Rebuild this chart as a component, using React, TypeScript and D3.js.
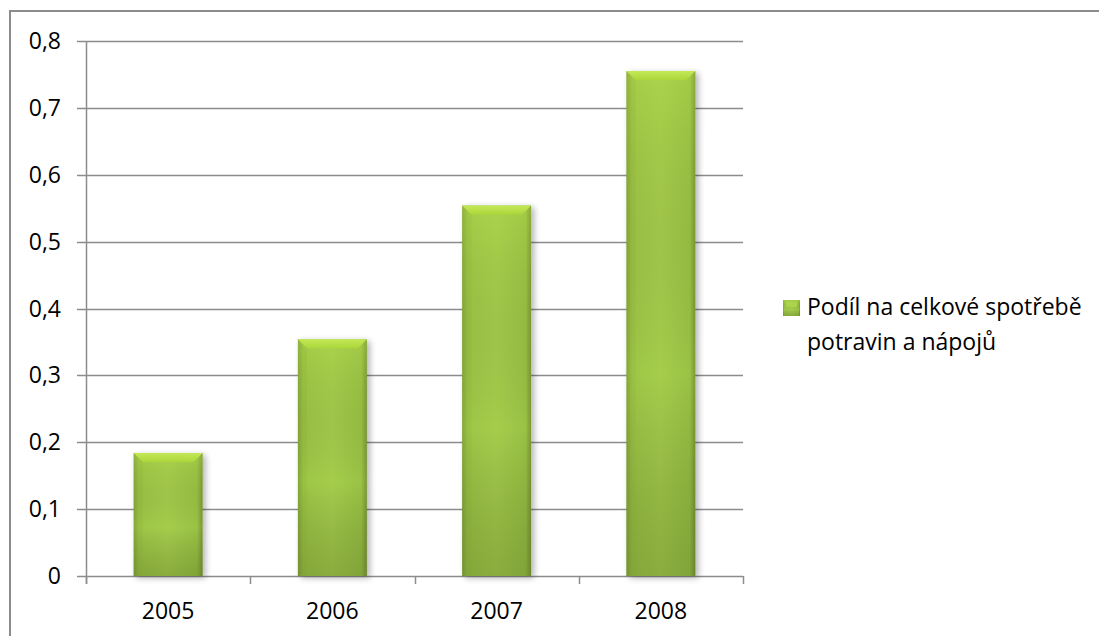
import React from "react";
import * as d3 from "d3";

const categories = ["2005", "2006", "2007", "2008"];
const values = [0.184, 0.354, 0.554, 0.755];
const yTicks = [0, 0.1, 0.2, 0.3, 0.4, 0.5, 0.6, 0.7, 0.8];
const seriesName = ["Podíl na celkové spotřebě", "potravin a nápojů"];

const W = 1099;
const H = 636;
const M = { left: 86, right: 743, top: 41, bottom: 576 };
const FONT = "'Open Sans', sans-serif";
const GRID = "#8c8c8c";

export default function App() {
  const x = d3.scaleBand<string>().domain(categories).range([M.left, M.right]).paddingInner(0.58).paddingOuter(0.29);
  const xEdge = d3.scaleLinear().domain([0, categories.length]).range([M.left, M.right]);
  const y = d3.scaleLinear().domain([0, 0.8]).range([M.bottom, M.top]);
  const fmt = (v: number) => d3.format(".1f")(v).replace(".", ",").replace(/^0,0$/, "0");
  const bw = x.bandwidth();
  const bevel = 9;

  return (
    <div style={{ position: "fixed", left: 0, top: 0 }}>
      <svg width={W} height={H} style={{ display: "block", background: "#fff" }}>
        <defs>
          <linearGradient id="hgrad" x1="0" x2="1" y1="0" y2="0">
            <stop offset="0" stopColor="#86a93a" />
            <stop offset="0.08" stopColor="#9ec646" />
            <stop offset="0.5" stopColor="#a6cd4c" />
            <stop offset="0.92" stopColor="#9ac244" />
            <stop offset="1" stopColor="#7a9834" />
          </linearGradient>
          <linearGradient id="vshade" x1="0" x2="0" y1="0" y2="1">
            <stop offset="0" stopColor="#c8f050" stopOpacity="0.2" />
            <stop offset="0.6" stopColor="#000" stopOpacity="0" />
            <stop offset="1" stopColor="#2a3a10" stopOpacity="0.22" />
          </linearGradient>
          <linearGradient id="topgrad" x1="0" x2="0" y1="0" y2="1">
            <stop offset="0" stopColor="#c4e858" />
            <stop offset="1" stopColor="#acd63a" />
          </linearGradient>
          <filter id="shadow" x="-20%" y="-5%" width="150%" height="115%">
            <feGaussianBlur in="SourceAlpha" stdDeviation="3" />
            <feOffset dx="3" dy="2" result="b" />
            <feComponentTransfer>
              <feFuncA type="linear" slope="0.3" />
            </feComponentTransfer>
            <feMerge>
              <feMergeNode />
              <feMergeNode in="SourceGraphic" />
            </feMerge>
          </filter>
        </defs>

        {/* outer border (top & left) */}
        <path d={`M10,${H} L10,11 L${W},11`} fill="none" stroke={GRID} strokeWidth={2} />

        {/* gridlines */}
        {yTicks.map((t) => (
          <line key={t} x1={M.left - 9} x2={M.right} y1={Math.round(y(t)) + 0.5} y2={Math.round(y(t)) + 0.5} stroke={GRID} strokeWidth={1.5} />
        ))}
        {/* y axis */}
        <line x1={M.left + 0.5} x2={M.left + 0.5} y1={M.top} y2={M.bottom + 8} stroke={GRID} strokeWidth={1.5} />
        {/* x ticks */}
        {d3.range(categories.length + 1).map((i) => (
          <line key={i} x1={Math.round(xEdge(i)) + 0.5} x2={Math.round(xEdge(i)) + 0.5} y1={M.bottom} y2={M.bottom + 8} stroke={GRID} strokeWidth={1.5} />
        ))}

        {/* y labels */}
        {yTicks.map((t) => (
          <text key={t} x={61} y={y(t)} dy="0.35em" textAnchor="end" fontFamily={FONT} fontSize={23} fill="#000">
            {fmt(t)}
          </text>
        ))}
        {/* x labels */}
        {categories.map((c) => (
          <text key={c} x={(x(c) ?? 0) + bw / 2} y={619} textAnchor="middle" fontFamily={FONT} fontSize={23} fill="#000">
            {c}
          </text>
        ))}

        {/* bars */}
        {categories.map((c, i) => {
          const bx = x(c) ?? 0;
          const by = y(values[i]);
          const bh = M.bottom - by;
          return (
            <g key={c} filter="url(#shadow)">
              <rect x={bx} y={by} width={bw} height={bh} fill="url(#hgrad)" />
              <rect x={bx} y={by} width={bw} height={bh} fill="url(#vshade)" />
              <path d={`M${bx},${by} L${bx + bw},${by} L${bx + bw - bevel},${by + bevel} L${bx + bevel},${by + bevel} Z`} fill="url(#topgrad)" />
              <path d={`M${bx},${by} L${bx + bevel},${by + bevel} L${bx + bevel},${M.bottom} L${bx},${M.bottom} Z`} fill="#7a9a34" opacity={0.12} />
            </g>
          );
        })}

        {/* legend */}
        <g>
          <rect x={783} y={300} width={17} height={16} fill="url(#hgrad)" />
          <rect x={783} y={300} width={17} height={16} fill="url(#vshade)" />
          <rect x={786} y={302} width={11} height={5} fill="#b8e050" opacity={0.6} />
          {seriesName.map((s, i) => (
            <text key={i} x={807} y={315 + i * 35} fontFamily={FONT} fontSize={23} fill="#000">
              {s}
            </text>
          ))}
        </g>
      </svg>
    </div>
  );
}
